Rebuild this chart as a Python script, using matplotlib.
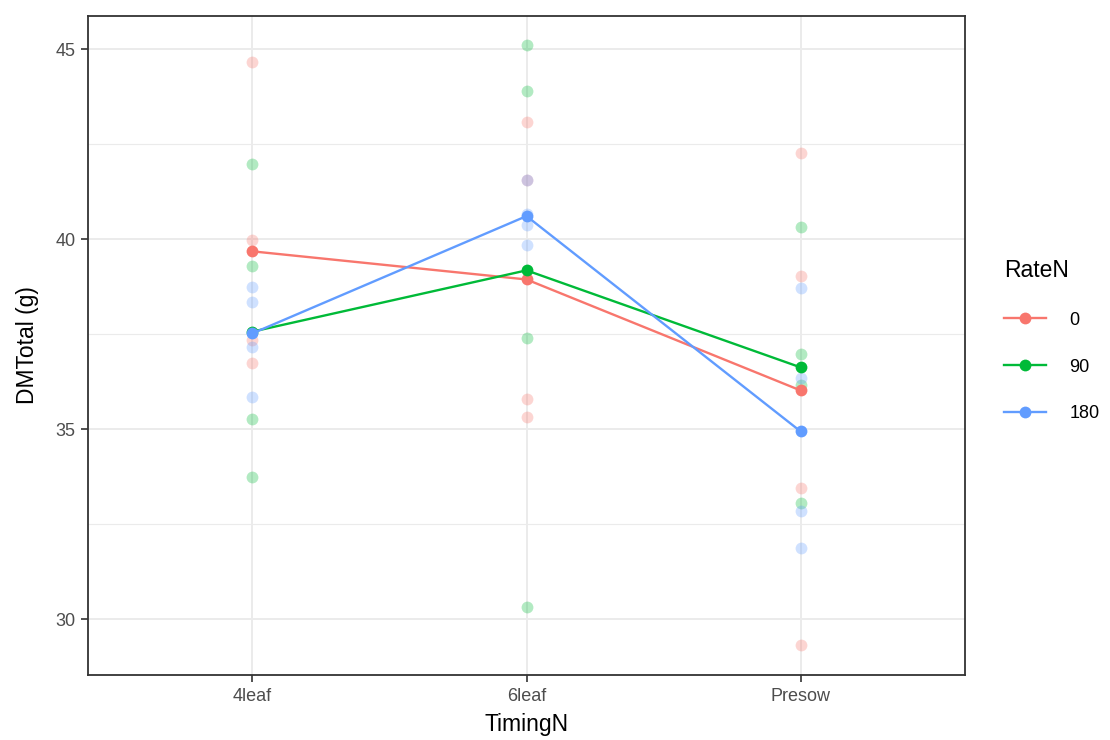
import matplotlib.pyplot as plt
from matplotlib.lines import Line2D
import numpy as np

plt.rcParams['font.family'] = ['Liberation Sans', 'DejaVu Sans']

timings = ['4leaf', '6leaf', 'Presow']
rates = ['0', '90', '180']
colors = ['#F8766D', '#00BA38', '#619CFF']

# DMTotal (g) per plot, one list per timing, for each nitrogen rate
rate0 = [
    [44.66, 39.97, 37.34, 36.74],
    [43.09, 41.55, 35.79, 35.32],
    [42.27, 39.03, 33.45, 29.32],
]
rate90 = [
    [41.97, 39.29, 35.26, 33.74],
    [45.10, 43.90, 37.39, 30.32],
    [40.32, 36.97, 36.16, 33.05],
]
rate180 = [
    [38.74, 38.34, 37.16, 35.84],
    [41.55, 40.66, 40.37, 39.84],
    [38.71, 36.34, 32.84, 31.87],
]
data = [rate0, rate90, rate180]

fig = plt.figure(figsize=(11.1, 7.4), dpi=100)
ax = fig.add_axes([0.0793, 0.0878, 0.7901, 0.8906])

xpos = np.arange(1, len(timings) + 1)

# raw observations, faded
for series, c in zip(data, colors):
    for x, vals in zip(xpos, series):
        ax.plot([x] * len(vals), vals, 'o', color=c, alpha=0.3,
                markersize=8.5, markeredgewidth=0, zorder=2)

# treatment means joined by lines
for series, c in zip(data, colors):
    means = [np.mean(v) for v in series]
    ax.plot(xpos, means, '-o', color=c, lw=1.7, markersize=8.5,
            markeredgewidth=0, zorder=3)

ax.set_xlim(0.4, 3.6)
ax.set_ylim(28.53, 45.87)
ax.set_xticks(xpos)
ax.set_xticklabels(timings)
ax.set_yticks([30, 35, 40, 45])
ax.set_yticks([32.5, 37.5, 42.5], minor=True)
ax.set_xticks([], minor=True)

ax.grid(which='major', color='#EBEBEB', lw=1.4, zorder=0)
ax.grid(which='minor', axis='y', color='#EBEBEB', lw=0.8, zorder=0)
ax.set_axisbelow(True)

for s in ax.spines.values():
    s.set_color('#333333')
    s.set_linewidth(1.3)

ax.tick_params(which='major', length=5, width=1.2, color='#333333',
               labelsize=13, labelcolor='#4D4D4D', pad=4)
ax.tick_params(which='minor', length=0)

ax.set_xlabel('TimingN', fontsize=16.5, labelpad=6)
ax.set_ylabel('DMTotal (g)', fontsize=16.5, labelpad=12)

handles = [Line2D([0], [0], color=c, lw=1.7, marker='o', markersize=8.5,
                  markeredgewidth=0) for c in colors]
fig.legend(handles, rates, title='RateN', loc='upper left',
           bbox_to_anchor=(0.89, 0.672), frameon=False, fontsize=13,
           title_fontsize=16.5, handlelength=2.3, handletextpad=1.3,
           labelspacing=1.65, alignment='left')

fig.savefig('out.png', dpi=100)
